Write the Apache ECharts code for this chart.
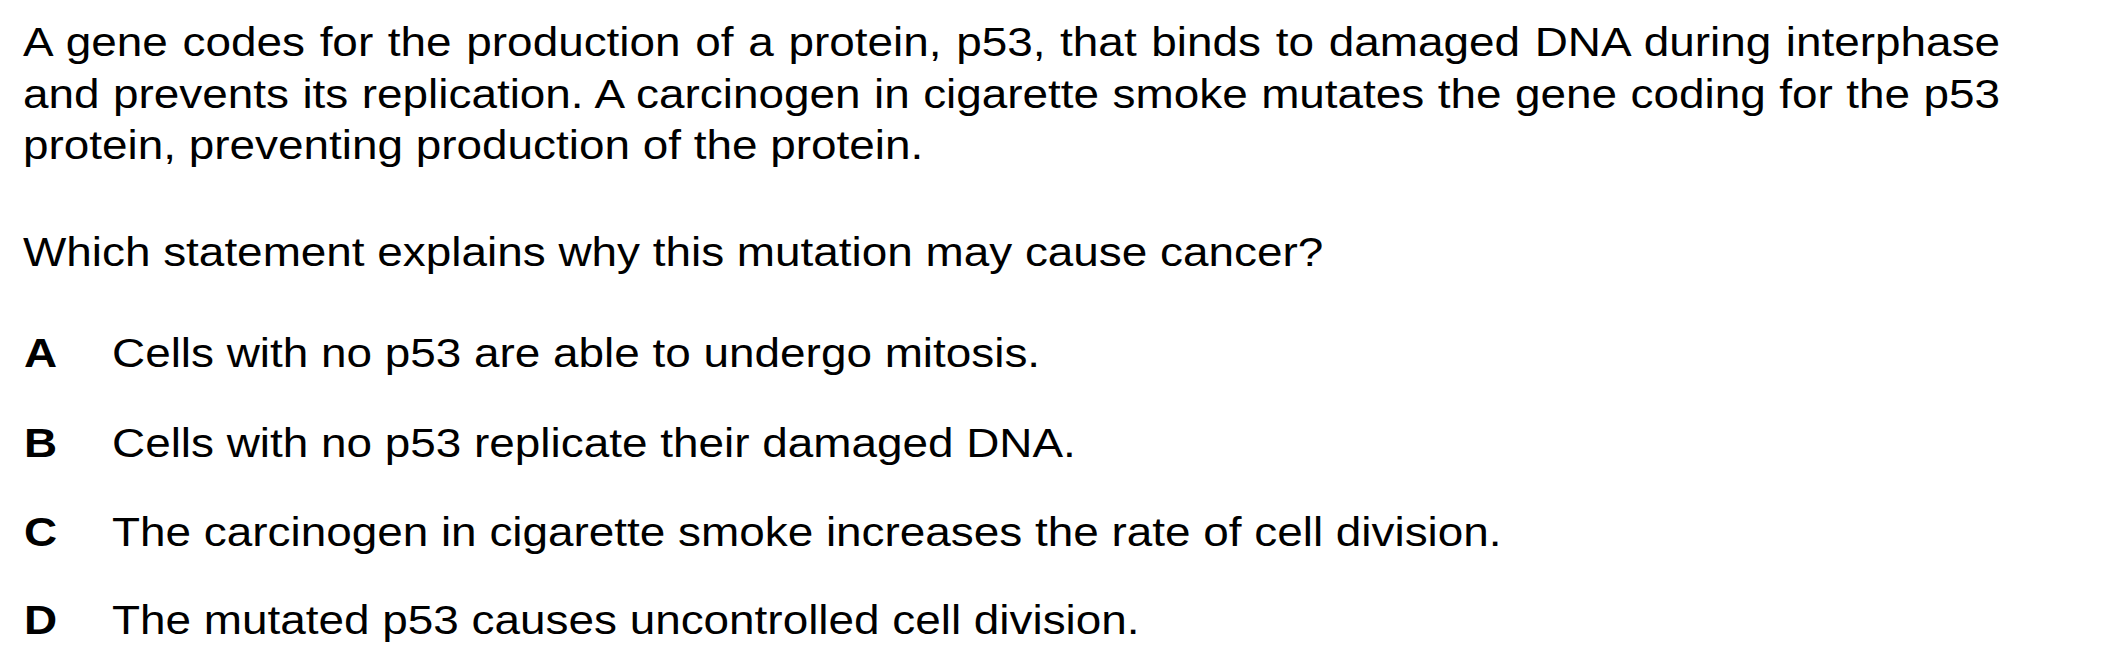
<!DOCTYPE html>
<html>
<head>
<meta charset="utf-8">
<script src="https://cdn.jsdelivr.net/npm/echarts@6/dist/echarts.min.js"></script>
<style>
html,body{margin:0;padding:0;background:#fff}
#main{width:2101px;height:667px}
</style>
</head>
<body>
<div id="main"></div>
<script>
var stemLines = [
  'A gene codes for the production of a protein, p53, that binds to damaged DNA during interphase',
  'and prevents its replication. A carcinogen in cigarette smoke mutates the gene coding for the p53',
  'protein, preventing production of the protein.'
];
var question = 'Which statement explains why this mutation may cause cancer?';
var letters = ['A', 'B', 'C', 'D'];
var answers = [
  'Cells with no p53 are able to undergo mitosis.',
  'Cells with no p53 replicate their damaged DNA.',
  'The carcinogen in cigarette smoke increases the rate of cell division.',
  'The mutated p53 causes uncontrolled cell division.'
];

var chart = echarts.init(document.getElementById('main'), null, {renderer: 'svg'});
var font = '"Liberation Sans", Arial, sans-serif';
var size = 40;
var sx = 1.147;         // the scan is a little wider than plain Arial
var leftEdge = 23;
var rightEdge = 2000;   // justified stem lines end here

function txt(t, x, y, bold) {
  return {
    type: 'text', x: x, y: y, scaleX: sx, scaleY: 1,
    style: {text: t, font: (bold ? 'bold ' : '') + size + 'px ' + font,
      fill: '#000', verticalAlign: 'middle', align: 'left'}
  };
}

var els = [];
var stemY = [42, 94, 145];
stemLines.forEach(function (t, i) { els.push(txt(t, leftEdge, stemY[i])); });
els.push(txt(question, leftEdge, 252));
var optY = [353, 443, 532, 620];
letters.forEach(function (l, i) {
  els.push(txt(l, 24, optY[i], true));
  els.push(txt(answers[i], 112, optY[i]));
});

chart.setOption({
  backgroundColor: '#fff',
  animation: false,
  graphic: els
});

// justify the first two lines of the stem like the printed paper
function justify() {
  var nodes = document.querySelectorAll('#main svg text');
  nodes.forEach(function (n) {
    var k = stemLines.indexOf(n.textContent);
    if (k < 0 || k === stemLines.length - 1) return;
    n.style.wordSpacing = '0px';
    var w = n.getBBox().width;
    var gaps = stemLines[k].split(' ').length - 1;
    var extra = ((rightEdge - leftEdge) / sx - w) / gaps;
    n.style.wordSpacing = extra.toFixed(2) + 'px';
  });
}
chart.on('finished', justify);
justify();
</script>
</body>
</html>
